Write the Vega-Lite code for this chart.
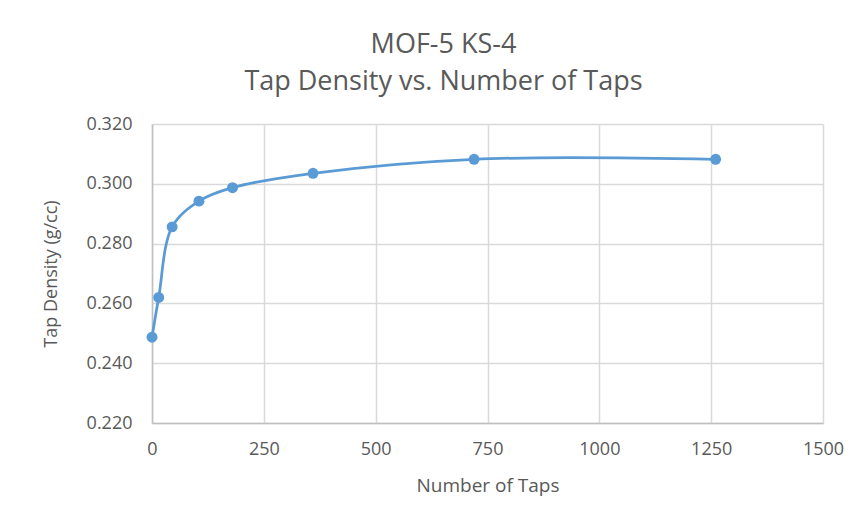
{
  "$schema": "https://vega.github.io/schema/vega-lite/v6.json",
  "autosize": "none",
  "width": 671,
  "height": 299,
  "padding": {"left": 152, "top": 124, "right": 39, "bottom": 88},
  "background": "white",
  "config": {
    "font": "Open Sans",
    "view": {"stroke": null}
  },
  "title": {
    "text": ["MOF-5 KS-4", "Tap Density vs. Number of Taps"],
    "font": "Open Sans",
    "fontSize": 27,
    "fontWeight": "normal",
    "color": "#595959",
    "lineHeight": 37,
    "anchor": "middle",
    "dx": -44,
    "offset": 19
  },
  "data": {
    "values": [
      {"taps": 0, "density": 0.2487},
      {"taps": 15, "density": 0.2620},
      {"taps": 45, "density": 0.2856},
      {"taps": 105, "density": 0.2942},
      {"taps": 180, "density": 0.2987},
      {"taps": 360, "density": 0.3035},
      {"taps": 720, "density": 0.3082},
      {"taps": 1260, "density": 0.3082}
    ]
  },
  "encoding": {
    "x": {
      "field": "taps",
      "type": "quantitative",
      "title": "Number of Taps",
      "scale": {"domain": [0, 1500], "nice": false, "zero": false},
      "axis": {
        "values": [0, 250, 500, 750, 1000, 1250, 1500],
        "format": "d",
        "labelFlush": false,
        "labelOverlap": false,
        "grid": true,
        "gridColor": "#D9D9D9",
        "gridWidth": 1.5,
        "domainColor": "#BFBFBF",
        "domainWidth": 1.5,
        "ticks": false,
        "labelPadding": 17,
        "labelFontSize": 18,
        "labelColor": "#595959",
        "labelFont": "Open Sans",
        "titleFontSize": 19,
        "titleFont": "Open Sans",
        "titleFontWeight": "normal",
        "titleColor": "#595959",
        "titlePadding": 18
      }
    },
    "y": {
      "field": "density",
      "type": "quantitative",
      "title": "Tap Density (g/cc)",
      "scale": {"domain": [0.22, 0.32], "nice": false, "zero": false},
      "axis": {
        "values": [0.22, 0.24, 0.26, 0.28, 0.30, 0.32],
        "format": ".3f",
        "labelFlush": false,
        "labelOverlap": false,
        "grid": true,
        "gridColor": "#D9D9D9",
        "gridWidth": 1.5,
        "domainColor": "#BFBFBF",
        "domainWidth": 1.5,
        "ticks": false,
        "labelPadding": 20,
        "labelFontSize": 18,
        "labelColor": "#595959",
        "labelFont": "Open Sans",
        "titleFontSize": 18,
        "titleFont": "Open Sans",
        "titleFontWeight": "normal",
        "titleColor": "#595959",
        "titlePadding": 26
      }
    }
  },
  "layer": [
    {
      "mark": {"type": "line", "color": "#5B9BD5", "strokeWidth": 2.75, "interpolate": "catmull-rom"}
    },
    {
      "mark": {"type": "point", "filled": true, "color": "#5B9BD5", "size": 120, "opacity": 1}
    }
  ]
}
